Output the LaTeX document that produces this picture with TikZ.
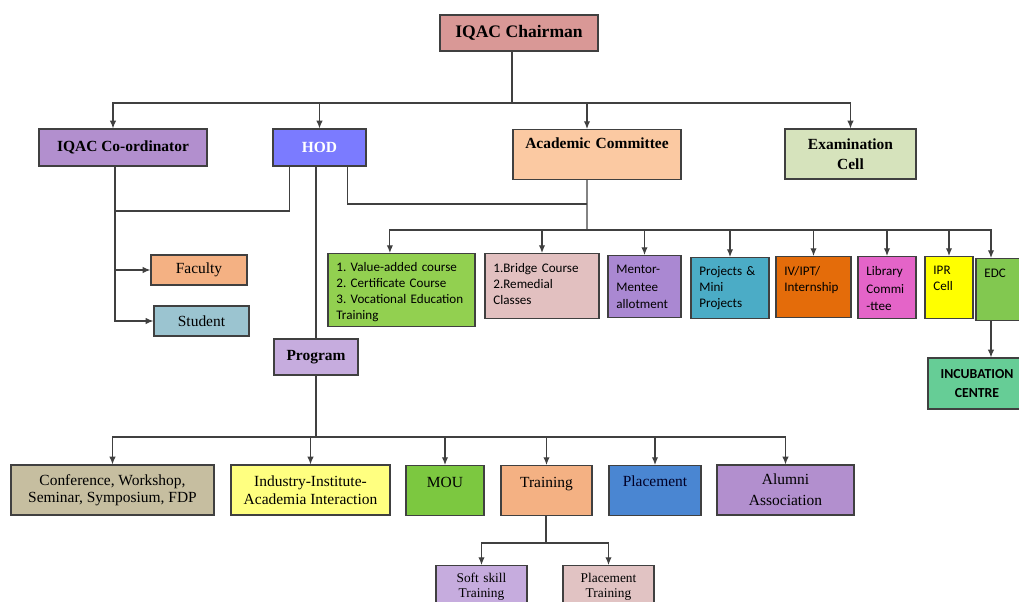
\documentclass[tikz,border=0pt]{standalone}
\usepackage{fontspec}
\setmainfont{Liberation Serif}
\newfontfamily\calibri{Carlito}
\usetikzlibrary{arrows.meta}

\definecolor{chairpink}{RGB}{217,152,150}
\definecolor{coordlilac}{RGB}{178,143,206}
\definecolor{hodblue}{RGB}{123,123,255}
\definecolor{acadpeach}{RGB}{251,201,162}
\definecolor{examgreen}{RGB}{214,227,188}
\definecolor{facorange}{RGB}{244,177,131}
\definecolor{studteal}{RGB}{155,196,208}
\definecolor{proglilac}{RGB}{198,172,222}
\definecolor{vagreen}{RGB}{146,208,80}
\definecolor{bridgerose}{RGB}{226,192,192}
\definecolor{mentorpurple}{RGB}{170,136,210}
\definecolor{projteal}{RGB}{75,172,198}
\definecolor{ivorange}{RGB}{228,108,10}
\definecolor{libpink}{RGB}{228,100,200}
\definecolor{iprhue}{RGB}{255,255,0}
\definecolor{edcgreen}{RGB}{130,200,80}
\definecolor{incmint}{RGB}{102,205,150}
\definecolor{conftan}{RGB}{198,190,160}
\definecolor{indyellow}{RGB}{255,255,128}
\definecolor{mougreen}{RGB}{124,200,64}
\definecolor{plcblue}{RGB}{74,134,210}
\definecolor{ptrose}{RGB}{225,195,195}

\begin{document}
\frenchspacing
\begin{tikzpicture}[x=0.025cm, y=-0.025cm,
  box/.style={draw=black!75, line width=0.8pt, inner sep=3pt, align=center, font=\fontsize{11}{14}\selectfont},
  hd/.style={box, font=\bfseries\fontsize{11}{14}\selectfont},
  wh/.style 2 args={minimum width=#1*0.025cm, minimum height=#2*0.025cm},
  topbox/.style n args={3}{box, anchor=north, inner sep=4pt, text width=#1*0.025cm-8pt,
    text height=#3*0.025cm-4pt, text depth=#2*0.025cm-#3*0.025cm-4pt},
  cal/.style n args={3}{topbox={#1}{#2}{#3}, align=left, inner xsep=6pt, text width=#1*0.025cm-12pt,
    font=\calibri\fontsize{9.3}{11.3}\selectfont},
  ln/.style={draw=black!75, line width=0.8pt},
  arr/.style={ln, -{Latex[length=5.5pt,width=4.5pt]}}]

\useasboundingbox (0,0) rectangle (1019,601);
\clip (0,0) rectangle (1019,601);

% top level
\node[hd, wh={158}{36}, fill=chairpink, font=\bfseries\fontsize{12.5}{15}\selectfont] (chair) at (519,33) {IQAC Chairman};
\node[hd, wh={168}{37}, fill=coordlilac] (coord) at (123,147.5) {IQAC Co-ordinator};
\node[hd, wh={93}{37}, fill=hodblue, text=white] (hod) at (319.5,147.5) {HOD};
\node[topbox={168}{50}{19}, fill=acadpeach, font=\bfseries\fontsize{11}{14}\selectfont] (acad) at (597,129) {Academic Committee};
\node[hd, wh={131}{50}, fill=examgreen] (exam) at (850.5,154) {Examination\\Cell};

\node[box, wh={96}{30}, fill=facorange] (faculty) at (199,270) {Faculty};
\node[box, wh={95}{30}, fill=studteal] (student) at (201.5,321) {Student};
\node[hd, wh={84}{36}, fill=proglilac] (prog) at (316,357) {Program};

% academic committee activities
\node[cal={147}{73}{18}, fill=vagreen] (va) at (401.5,253) {1. Value-added course\\2. Certificate Course\\3. Vocational Education\\Training};
\node[cal={114}{65}{19}, fill=bridgerose] (br) at (542,253) {1.Bridge Course\\2.Remedial\\Classes};
\node[cal={73}{62}{18}, fill=mentorpurple, font=\calibri\fontsize{9.3}{12.5}\selectfont] (mm) at (644.5,255) {Mentor-\\Mentee\\allotment};
\node[cal={78}{61}{18}, fill=projteal] (pj) at (730,257) {Projects \&\\Mini\\Projects};
\node[cal={75}{61}{19}, fill=ivorange] (iv) at (813.5,256) {IV/IPT/\\Internship};
\node[cal={58}{62}{19}, fill=libpink, font=\calibri\fontsize{9.3}{12.5}\selectfont] (lib) at (887,256) {Library\\Commi\\-ttee};
\node[cal={48}{62}{18}, fill=iprhue] (ipr) at (949,256) {IPR\\Cell};
\node[cal={46}{62}{19}, fill=edcgreen] (edc) at (999,258) {EDC};
\node[box, wh={98}{51}, fill=incmint, font=\calibri\bfseries\fontsize{9.8}{14}\selectfont] (inc) at (977,383.5) {INCUBATION\\CENTRE};

% program activities
\node[box, wh={203}{50}, fill=conftan, font=\fontsize{11}{12.5}\selectfont] (conf) at (112.5,490) {Conference, Workshop,\\Seminar, Symposium, FDP};
\node[box, wh={159}{50}, fill=indyellow, font=\fontsize{11}{12.5}\selectfont] (ind) at (310.5,490) {Industry-Institute-\\Academia Interaction};
\node[topbox={78}{50}{22}, fill=mougreen] (mou) at (445,465) {MOU};
\node[topbox={91}{50}{22}, fill=facorange] (trn) at (546.5,465) {Training};
\node[topbox={92}{50}{21}, fill=plcblue, text=black!85!blue] (plc) at (655,465) {Placement};
\node[box, wh={137}{50}, fill=coordlilac, font=\fontsize{11}{15}\selectfont] (alu) at (785.5,490) {Alumni\\Association};
\node[topbox={91}{45}{17}, fill=proglilac, font=\fontsize{9.5}{10.6}\selectfont] (soft) at (481.5,565) {Soft skill\\Training};
\node[topbox={91}{45}{17}, fill=ptrose, font=\fontsize{9.5}{10.6}\selectfont] (pt) at (608.5,565) {Placement\\Training};

% junctions
\coordinate (j1) at (512,103);
\coordinate (j2) at (115,211);
\coordinate (j3) at (587,204);
\coordinate (j4) at (587,230);
\coordinate (j5) at (316,437);
\coordinate (j6) at (546,543);

% chairman
\draw[ln] (chair.south -| j1) -- (j1);
\draw[arr] (j1) -| ([xshift=-0.25cm]coord.north);
\draw[arr] (j1) -| (hod.north);
\draw[arr] (j1) -| ([xshift=-0.25cm]acad.north);
\draw[arr] (j1) -| (exam.north);

% co-ordinator and HOD
\draw[arr] ([xshift=-0.2cm]coord.south) |- (student.west);
\draw[arr] (j2) |- (faculty.west);
\draw[ln] ([xshift=-0.76cm]hod.south) |- (j2);
\draw[ln] (hod.south -| prog.north) -- (prog.north);
\draw[ln] ([xshift=0.69cm]hod.south) |- (j3);

% academic committee
\draw[ln] ([xshift=-0.25cm]acad.south) -- (j4);
\draw[arr] (j4) -| ([xshift=-0.29cm]va.north);
\foreach \n in {br,mm,pj,iv,lib,ipr}
  \draw[arr] (j4) -| (\n.north);
\draw[arr] (j4) -| ([xshift=-0.2cm]edc.north);
\draw[arr] ([xshift=-0.2cm]edc.south) -- ([xshift=-0.2cm]edc.south |- inc.north);

% program
\draw[ln] (prog.south) -- (j5);
\foreach \n in {conf,ind,mou,trn,plc,alu}
  \draw[arr] (j5) -| (\n.north);
\draw[ln] (trn.south -| j6) -- (j6);
\foreach \n in {soft,pt}
  \draw[arr] (j6) -| (\n.north);
\end{tikzpicture}
\end{document}
